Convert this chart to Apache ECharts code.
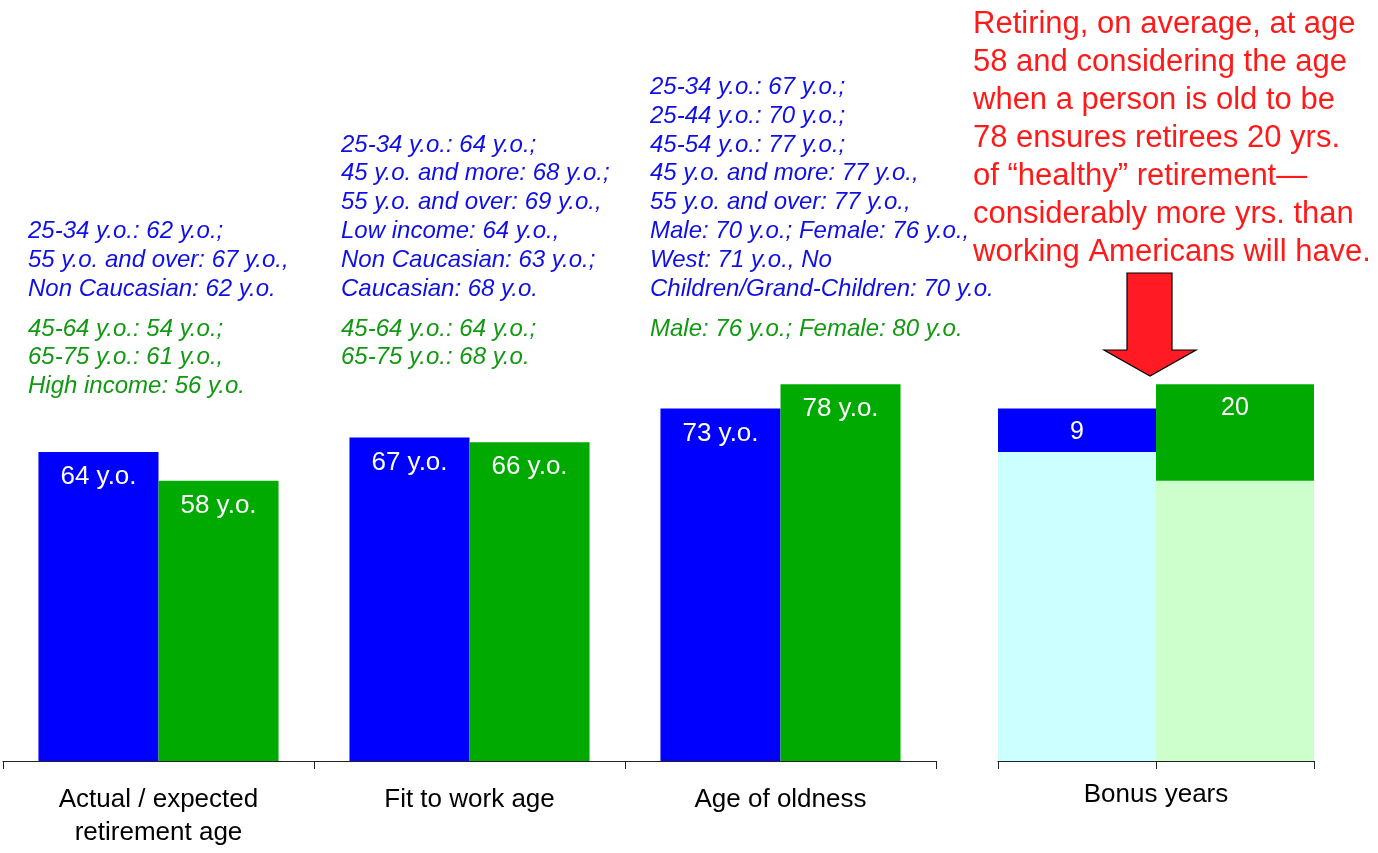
<!DOCTYPE html>
<html>
<head>
<meta charset="utf-8">
<title>Retirement age</title>
<script src="https://cdn.jsdelivr.net/npm/echarts@6/dist/echarts.min.js"></script>
<style>
  html, body { margin: 0; padding: 0; background: #fff; }
  #main { width: 1378px; height: 853px; }
</style>
</head>
<body>
<div id="main"></div>
<script>
(function() {
    'use strict';

    // left chart
    var categories = ['Actual / expected\nretirement age', 'Fit to work age', 'Age of oldness'];
    var blueValues = [64, 67, 73];
    var greenValues = [58, 66, 78];

    // right chart (bonus years): base + extra on top
    var bonusCategories = ['Retirement', 'Oldness'];
    var bonusBase = [64, 58];
    var bonusExtra = [9, 20];

    var blueNotes = [
        ['25-34 y.o.: 62 y.o.;', '55 y.o. and over: 67 y.o.,', 'Non Caucasian: 62 y.o.'],
        ['25-34 y.o.: 64 y.o.;', '45 y.o. and more: 68 y.o.;', '55 y.o. and over: 69 y.o.,',
         'Low income: 64 y.o.,', 'Non Caucasian: 63 y.o.;', 'Caucasian: 68 y.o.'],
        ['25-34 y.o.: 67 y.o.;', '25-44 y.o.: 70 y.o.;', '45-54 y.o.: 77 y.o.;',
         '45 y.o. and more: 77 y.o.,', '55 y.o. and over: 77 y.o.,',
         'Male: 70 y.o.; Female: 76 y.o.,', 'West: 71 y.o., No',
         'Children/Grand-Children: 70 y.o.']
    ];
    var greenNotes = [
        ['45-64 y.o.: 54 y.o.;', '65-75 y.o.: 61 y.o.,', 'High income: 56 y.o.'],
        ['45-64 y.o.: 64 y.o.;', '65-75 y.o.: 68 y.o.'],
        ['Male: 76 y.o.; Female: 80 y.o.']
    ];
    var redNote = ['Retiring, on average, at age', '58 and considering the age',
        'when a person is old to be', '78 ensures retirees 20 yrs.',
        'of \u201chealthy\u201d retirement\u2014', 'considerably more yrs. than',
        'working Americans will have.'];

    var FONT = 'Arial, "Liberation Sans", sans-serif';
    var BLUE = '#0000ff', GREEN = '#00aa00';
    var LINE_H = 28.8;

    var noteX = [28, 341, 650];
    var greenTop = 329 - LINE_H / 2;

    var graphics = [];
    for (var i = 0; i < 3; i++) {
        var bl = blueNotes[i];
        graphics.push({
            type: 'text', left: noteX[i], top: 289 - LINE_H / 2 - (bl.length - 1) * LINE_H,
            style: { text: bl.join('\n'), fill: '#1010e6', font: 'italic 24px ' + FONT, lineHeight: LINE_H }
        });
        graphics.push({
            type: 'text', left: noteX[i], top: greenTop,
            style: { text: greenNotes[i].join('\n'), fill: '#119911', font: 'italic 24px ' + FONT, lineHeight: LINE_H }
        });
    }
    graphics.push({
        type: 'text', left: 973, top: 5,
        style: { text: redNote.join('\n'), fill: '#ff1a1a', font: '31px ' + FONT, lineHeight: 38 }
    });
    // big arrow pointing down to the bonus bars
    graphics.push({
        type: 'polygon',
        shape: { points: [[1127, 273], [1172, 273], [1172, 350], [1196, 350], [1150, 376], [1104, 350], [1127, 350]] },
        style: { fill: '#ff1a24', stroke: '#000', lineWidth: 1.2 }
    });

    var labelStyle = {
        show: true, position: 'insideTop', distance: 12,
        color: '#fff', fontSize: 26, fontFamily: FONT,
        formatter: function(p) { return p.value + ' y.o.'; }
    };

    var axisBase = {
        type: 'category', boundaryGap: true,
        axisLine: { lineStyle: { color: '#222', width: 1.2 } },
        axisTick: { show: true, length: 8, alignWithLabel: false, lineStyle: { color: '#222' } }
    };

    var option = {
        animation: false,
        backgroundColor: '#fff',
        graphic: graphics,
        grid: [
            { left: 3, right: 442, top: 278, bottom: 92 },
            { left: 998, right: 64, top: 278, bottom: 92 }
        ],
        xAxis: [
            $extend({}, axisBase, {
                gridIndex: 0, data: categories,
                axisLabel: { color: '#000', fontSize: 26, fontFamily: FONT, lineHeight: 33, margin: 22, interval: 0 }
            }),
            $extend({}, axisBase, {
                gridIndex: 1, data: bonusCategories,
                axisLabel: { show: false },
                name: 'Bonus years', nameLocation: 'middle', nameGap: 21,
                nameTextStyle: { color: '#000', fontSize: 26, fontFamily: FONT }
            })
        ],
        yAxis: [
            { type: 'value', gridIndex: 0, min: 0, max: 100, show: false },
            { type: 'value', gridIndex: 1, min: 0, max: 100, show: false }
        ],
        series: [
            {
                type: 'bar', xAxisIndex: 0, yAxisIndex: 0, data: blueValues,
                itemStyle: { color: BLUE }, barGap: '0%', barCategoryGap: '22.8%',
                label: labelStyle
            },
            {
                type: 'bar', xAxisIndex: 0, yAxisIndex: 0, data: greenValues,
                itemStyle: { color: GREEN }, barGap: '0%', barCategoryGap: '22.8%',
                label: labelStyle
            },
            {
                type: 'bar', xAxisIndex: 1, yAxisIndex: 1, stack: 'bonus', barCategoryGap: '0%',
                data: [
                    { value: bonusBase[0], itemStyle: { color: '#ccffff' } },
                    { value: bonusBase[1], itemStyle: { color: '#ccffcc' } }
                ]
            },
            {
                type: 'bar', xAxisIndex: 1, yAxisIndex: 1, stack: 'bonus', barCategoryGap: '0%',
                data: [
                    { value: bonusExtra[0], itemStyle: { color: BLUE } },
                    { value: bonusExtra[1], itemStyle: { color: GREEN } }
                ],
                label: {
                    show: true, position: 'insideTop', distance: 11,
                    color: '#fff', fontSize: 25, fontFamily: FONT
                }
            }
        ]
    };

    function $extend(target) {
        for (var a = 1; a < arguments.length; a++) {
            var src = arguments[a];
            for (var k in src) { target[k] = src[k]; }
        }
        return target;
    }

    var myChart = echarts.init(document.getElementById('main'), null, { renderer: 'canvas' });
    myChart.setOption(option);
})();
</script>
</body>
</html>
